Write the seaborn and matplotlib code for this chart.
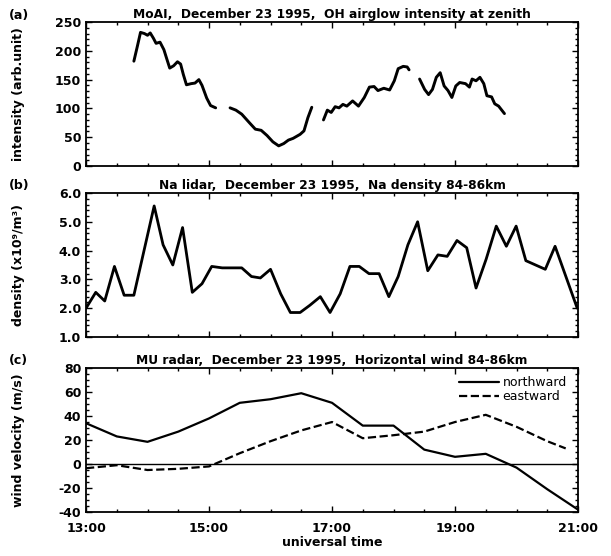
import numpy as np
import pandas as pd
import matplotlib
matplotlib.use("Agg")
import matplotlib.pyplot as plt
import matplotlib.ticker as mticker
import seaborn as sns

# ---------------- DATA ----------------
# (a) MoAI OH airglow intensity, 4 separate segments
oh_seg1_t = [13.778, 13.835, 13.886, 13.949, 14.0, 14.044, 14.095, 14.139, 14.203, 14.266, 14.316, 14.361,
             14.424, 14.487, 14.538, 14.582, 14.633, 14.709, 14.772, 14.835, 14.886, 14.962, 15.025, 15.108]
oh_seg1_v = [182, 208, 232, 230, 227, 231, 222, 213, 215, 202, 185, 170,
             174, 181, 177, 159, 141, 143, 144, 150, 140, 118, 105, 101]
oh_seg2_t = [15.342, 15.437, 15.532, 15.658, 15.753, 15.848, 15.943, 16.038, 16.133, 16.215, 16.291, 16.367,
             16.481, 16.544, 16.608, 16.671]
oh_seg2_v = [101, 97, 90, 75, 64, 62, 53, 42, 35, 39, 45, 48, 55, 61, 84, 102]
oh_seg3_t = [16.861, 16.924, 16.987, 17.051, 17.114, 17.177, 17.241, 17.335, 17.430, 17.525, 17.608, 17.684,
             17.747, 17.842, 17.937, 18.013, 18.076, 18.158, 18.222, 18.253]
oh_seg3_v = [80, 97, 93, 103, 101, 107, 104, 113, 104, 119, 137, 138, 131, 135, 132, 148, 169, 173, 172, 167]
oh_seg4_t = [18.424, 18.506, 18.570, 18.633, 18.696, 18.759, 18.823, 18.886, 18.949, 19.013, 19.076, 19.171,
             19.234, 19.278, 19.342, 19.405, 19.468, 19.519, 19.595, 19.646, 19.709, 19.804]
oh_seg4_v = [151, 133, 124, 133, 154, 162, 139, 131, 119, 139, 145, 143,
             137, 151, 148, 154, 143, 122, 120, 108, 104, 91]

# (b) Na lidar density 84-86 km
na_t = [13.0, 13.158, 13.304, 13.462, 13.620, 13.778, 14.108, 14.253, 14.411, 14.570, 14.728, 14.886,
        15.044, 15.215, 15.380, 15.532, 15.690, 15.835, 16.0, 16.165, 16.323, 16.481, 16.639, 16.810,
        16.968, 17.133, 17.291, 17.443, 17.601, 17.766, 17.924, 18.076, 18.234, 18.392, 18.557, 18.722,
        18.873, 19.032, 19.190, 19.342, 19.506, 19.671, 19.835, 19.994, 20.152, 20.310, 20.468, 20.627, 20.987]
na_v = [2.0, 2.55, 2.25, 3.45, 2.45, 2.45, 5.55, 4.2, 3.5, 4.8, 2.55, 2.85,
        3.45, 3.4, 3.4, 3.4, 3.1, 3.05, 3.35, 2.5, 1.85, 1.85, 2.1, 2.4,
        1.85, 2.5, 3.45, 3.45, 3.2, 3.2, 2.4, 3.1, 4.2, 5.0, 3.3, 3.85,
        3.8, 4.35, 4.1, 2.7, 3.7, 4.85, 4.15, 4.85, 3.65, 3.5, 3.35, 4.15, 2.0]

# (c) MU radar horizontal wind 84-86 km
wind_t = [13.0, 13.5, 14.0, 14.5, 15.0, 15.5, 16.0, 16.5, 17.0, 17.5, 18.0, 18.5, 19.0, 19.5, 20.0, 20.5, 21.0]
north_v = [34, 23, 18.5, 27, 38, 51, 54, 59, 51, 32, 32, 12, 6, 8.5, -3, -21, -38]
east_t = [13.0, 13.5, 14.0, 14.5, 15.0, 15.5, 16.0, 16.5, 17.0, 17.5, 18.0, 18.5, 19.0, 19.5, 20.0, 20.5, 20.8]
east_v = [-3.5, -1, -5, -4, -2, 9, 19, 28, 35, 21.5, 24, 27, 35, 41, 31, 19, 13]

hour_ticks = [13, 15, 17, 19, 21]

# long-form tables for seaborn
oh_df = pd.DataFrame({
    "time": oh_seg1_t + oh_seg2_t + oh_seg3_t + oh_seg4_t,
    "intensity": oh_seg1_v + oh_seg2_v + oh_seg3_v + oh_seg4_v,
    "segment": [1] * len(oh_seg1_t) + [2] * len(oh_seg2_t) + [3] * len(oh_seg3_t) + [4] * len(oh_seg4_t),
})
na_df = pd.DataFrame({"time": na_t, "density": na_v})

sns.set_style("ticks")
plt.rcParams["font.family"] = ["DejaVu Sans"]
plt.rcParams["axes.unicode_minus"] = False
plt.rcParams["text.color"] = "black"
plt.rcParams["axes.labelcolor"] = "black"
plt.rcParams["xtick.color"] = "black"
plt.rcParams["ytick.color"] = "black"
plt.rcParams["axes.edgecolor"] = "black"
plt.rcParams["axes.linewidth"] = 1.3
plt.rcParams["xtick.direction"] = "in"
plt.rcParams["ytick.direction"] = "in"

fig = plt.figure(figsize=(6.11, 5.56), dpi=100)
ax_a = fig.add_axes([0.1408, 0.7014, 0.8052, 0.259])
ax_b = fig.add_axes([0.1408, 0.3939, 0.8052, 0.259])
ax_c = fig.add_axes([0.1408, 0.0791, 0.8052, 0.259])

# ---------------- (a) OH airglow ----------------
sns.lineplot(data=oh_df, x="time", y="intensity", units="segment", estimator=None,
             color="black", linewidth=2.1, ax=ax_a)
ax_a.set_ylim(0, 250)
ax_a.yaxis.set_major_locator(mticker.MultipleLocator(50))
ax_a.yaxis.set_minor_locator(mticker.MultipleLocator(10))
ax_a.set_ylabel("intensity (arb.unit)", fontsize=9, fontweight="bold")
ax_a.set_title("MoAI,  December 23 1995,  OH airglow intensity at zenith",
               fontsize=8.8, fontweight="bold", pad=3)

# ---------------- (b) Na lidar ----------------
sns.lineplot(data=na_df, x="time", y="density", color="black", linewidth=2.0, ax=ax_b)
ax_b.set_ylim(1.0, 6.0)
ax_b.yaxis.set_major_locator(mticker.MultipleLocator(1.0))
ax_b.yaxis.set_minor_locator(mticker.MultipleLocator(0.2))
ax_b.yaxis.set_major_formatter(mticker.FormatStrFormatter("%.1f"))
ax_b.set_ylabel("density (x10⁹/m³)", fontsize=9, fontweight="bold")
ax_b.set_title("Na lidar,  December 23 1995,  Na density 84-86km",
               fontsize=8.8, fontweight="bold", pad=3)

# ---------------- (c) MU radar wind ----------------
ax_c.axhline(0, color="black", linewidth=1.0)
sns.lineplot(x=wind_t, y=north_v, color="black", linewidth=1.6, label="northward", ax=ax_c)
sns.lineplot(x=east_t, y=east_v, color="black", linewidth=1.6, linestyle="--", dashes=(5, 3.5),
             label="eastward", ax=ax_c)
ax_c.set_ylim(-40, 80)
ax_c.yaxis.set_major_locator(mticker.MultipleLocator(20))
ax_c.yaxis.set_minor_locator(mticker.MultipleLocator(5))
ax_c.set_ylabel("wind velocity (m/s)", fontsize=9, fontweight="bold")
ax_c.set_xlabel("universal time", fontsize=9, fontweight="bold", labelpad=1)
ax_c.set_title("MU radar,  December 23 1995,  Horizontal wind 84-86km",
               fontsize=8.8, fontweight="bold", pad=3)
ax_c.legend(loc="upper right", bbox_to_anchor=(1.0, 1.02), frameon=False, fontsize=9,
            handlelength=3.2, handletextpad=0.3, labelspacing=0.05)

for ax in (ax_a, ax_b, ax_c):
    ax.set_xlim(13, 21)
    ax.xaxis.set_major_locator(mticker.FixedLocator(hour_ticks))
    ax.xaxis.set_minor_locator(mticker.MultipleLocator(0.5))
    ax.tick_params(which="both", top=True, right=True, labelsize=9, width=1.0)
    ax.tick_params(which="major", length=4)
    ax.tick_params(which="minor", length=2)
    for lab in ax.get_yticklabels():
        lab.set_fontweight("bold")
    ax.yaxis.set_label_coords(-0.125, 0.5)
    if ax is not ax_c:
        ax.set_xlabel("")
        ax.tick_params(axis="x", labelbottom=False)

ax_c.tick_params(axis="x", which="major", pad=7)
ax_c.xaxis.set_major_formatter(mticker.FuncFormatter(lambda v, p: f"{int(round(v))}:00"))
for lab in ax_c.get_xticklabels():
    lab.set_fontweight("bold")

fig.text(0.015, 0.966, "(a)", fontsize=9, fontweight="bold")
fig.text(0.015, 0.660, "(b)", fontsize=9, fontweight="bold")
fig.text(0.015, 0.345, "(c)", fontsize=9, fontweight="bold")

fig.savefig("out.png", dpi=100)
